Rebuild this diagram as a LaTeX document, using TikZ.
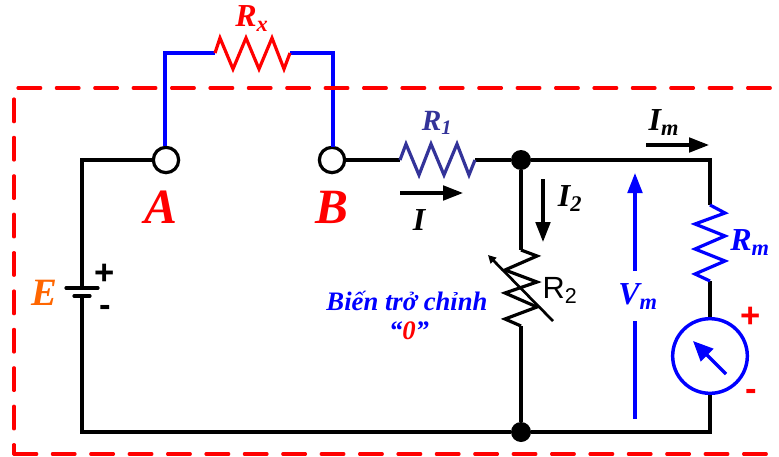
\documentclass[tikz,border=0pt]{standalone}
\usepackage{fontspec}
\setmainfont{Liberation Serif}
\newfontfamily\sansfont{Liberation Sans}
\usetikzlibrary{arrows.meta}
\definecolor{darkR}{HTML}{333399}
\definecolor{orangeE}{HTML}{FF6600}
\begin{document}
\begin{tikzpicture}[x=0.75pt,y=-0.75pt]
      \tikzstyle{term} = [draw=black, fill=white, circle, line width=2.4pt, inner sep=0pt, minimum size=19pt]
      \tikzstyle{dot} = [fill=black, circle, inner sep=0pt, minimum size=15pt]
      \tikzstyle{wire} = [line width=2.4pt, line join=miter]
      \tikzstyle{bluewire} = [wire, draw=blue]
      \tikzstyle{flow} = [line width=2.3pt, -{Triangle[length=15pt,width=11pt]}]
      \tikzstyle{box} = [draw=red, line width=2.4pt, line cap=round, dash pattern=on 17pt off 11.8pt]
      \tikzstyle{lab} = [inner sep=0pt, font=\fontsize{24}{24}\selectfont\bfseries\itshape]
      \tikzstyle{big} = [inner sep=0pt, red, font=\fontsize{37}{37}\selectfont\bfseries\itshape]
      \tikzstyle{sign} = [inner sep=0pt, font=\sansfont\fontsize{26}{26}\selectfont\bfseries]
      \useasboundingbox (0,0) rectangle (779,457);

      \node[term] (A) at (166,160) {};
      \node[term] (B) at (332,160) {};
      \node[dot] (top) at (521,160) {};
      \node[dot] (bot) at (521,432) {};
      \node[circle, draw=blue, line width=2.6pt, inner sep=0pt, minimum size=56pt] (meter) at (710,356) {};

      \coordinate (corner1) at (82,160);
      \coordinate (corner2) at (82,432);
      \coordinate (corner3) at (710,160);
      \coordinate (corner4) at (710,432);
      \coordinate (batp) at (82,288);
      \coordinate (batn) at (82,296);
      \coordinate (rxa) at (215,53);
      \coordinate (rxb) at (290,53);
      \coordinate (r1a) at (400,160);
      \coordinate (r1b) at (475,160);
      \coordinate (r2a) at (521,250);
      \coordinate (r2b) at (521,326);
      \coordinate (rma) at (710,205);
      \coordinate (rmb) at (710,281);

      % circuit wires
      \draw[wire] (A) -- (corner1) -- (batp);
      \draw[wire] (batn) -- (corner2) -- (bot);
      \draw[wire] (B) -- (r1a);
      \draw[wire] (r1b) -- (top);
      \draw[wire] (top) -- (corner3) -- (rma);
      \draw[wire] (top) -- (r2a);
      \draw[wire] (r2b) -- (bot);
      \draw[wire] (bot) -- (corner4) -- (meter);
      \draw[wire] (rmb) -- (meter);
      \draw[bluewire] (A.north -| 165,0) |- (rxa);
      \draw[bluewire] (rxb) -| (333,147);

      % battery
      \coordinate (batpl) at (66,288);
      \coordinate (batpr) at (98,288);
      \coordinate (batnl) at (74,296);
      \coordinate (batnr) at (90,296);
      \draw[wire, line cap=round] (batpl) -- (batpr);
      \draw[wire, line cap=round] (batnl) -- (batnr);

      % resistors
      \draw[wire, red] (rxa) -- (220,38) -- (233,69) -- (246,38) -- (259,69) -- (272,38) -- (284,69) -- (rxb);
      \draw[wire, darkR] (r1a) -- (406,144) -- (419,175) -- (431,144) -- (444,175) -- (457,144) -- (469,175) -- (r1b);
      \draw[wire] (r2a) -- (537,256) -- (505,270) -- (537,282) -- (505,293) -- (537,307) -- (505,319) -- (r2b);
      \draw[bluewire] (rma) -- (725,213) -- (695,224) -- (725,236) -- (695,249) -- (725,261) -- (695,274) -- (rmb);

      % arrows
      \coordinate (r2s) at (553,321);
      \coordinate (r2e) at (488,255);
      \draw[line width=2pt, -{Triangle[length=6pt,width=6pt]}] (r2s) -- (r2e);
      \coordinate (ims) at (646,145);
      \coordinate (ime) at (709,145);
      \draw[flow] (ims) -- (ime);
      \coordinate (is) at (400,193);
      \coordinate (ie) at (463,193);
      \draw[flow] (is) -- (ie);
      \coordinate (i2s) at (543,179);
      \coordinate (i2e) at (543,242);
      \draw[flow] (i2s) -- (i2e);
      \coordinate (vms) at (635,271);
      \coordinate (vme) at (635,173);
      \draw[flow, blue] (vms) -- (vme);
      \coordinate (vmc) at (635,321);
      \coordinate (vmd) at (635,419);
      \draw[wire, blue] (vmc) -- (vmd);
      \coordinate (mes) at (726,374);
      \coordinate (mee) at (693,341);
      \draw[line width=2.5pt, blue, -{Triangle[length=15pt,width=13pt]}] (mes) -- (mee);

      % dashed frame
      \coordinate (fr1) at (18,88);
      \coordinate (fr2) at (779,88);
      \coordinate (fr3) at (14,99);
      \coordinate (fr4) at (14,454);
      \coordinate (fr5) at (779,454);
      \draw[box] (fr1) -- (fr2);
      \draw[box] (fr3) -- (fr4);
      \draw[box] (fr4) -- (fr5);

      % labels
      \node[lab, red] (lRx) at (252,19) {R\textsubscript{x}};
      \node[big] (lA) at (161,207) {A};
      \node[big] (lB) at (332,207) {B};
      \node[lab, orangeE, font=\fontsize{29}{29}\selectfont\bfseries\itshape] (lE) at (44,293) {E};
      \node[lab, darkR, font=\fontsize{22}{22}\selectfont\bfseries\itshape] (lR1) at (437,123) {R\textsubscript{1}};
      \node[lab] (lIm) at (664,123) {I\textsubscript{m}};
      \node[lab] (lI) at (419,220) {I};
      \node[lab] (lI2) at (570,199) {I\textsubscript{2}};
      \node[lab, blue] (lRm) at (750,243) {R\textsubscript{m}};
      \node[lab, blue] (lVm) at (638,297) {V\textsubscript{m}};
      \node[inner sep=0pt, font=\sansfont\fontsize{23}{23}\selectfont] (lR2) at (560,290) {R\textsubscript{2}};
      \node[inner sep=0pt, blue, font=\fontsize{20}{20}\selectfont\bfseries\itshape] (lbt) at (407,301) {Biến trở chỉnh};
      \node[inner sep=0pt, blue, font=\fontsize{20}{20}\selectfont\bfseries\itshape] (lzero) at (409,331) {“\textcolor{red}{0}”};
      \node[sign] (bp) at (105,274) {+};
      \node[sign] (bn) at (105,311) {-};
      \node[sign, red] (mp) at (751,317) {+};
      \node[sign, red] (mn) at (751,395) {-};
    \end{tikzpicture}
\end{document}
